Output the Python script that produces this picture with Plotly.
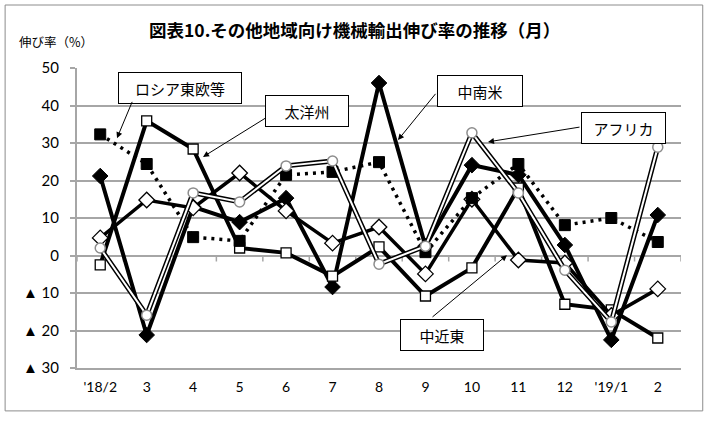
import plotly.graph_objects as go

categories = ["'18/2", "3", "4", "5", "6", "7", "8", "9", "10", "11", "12", "'19/1", "2"]

russia = [32.3, 24.4, 4.9, 3.9, 21.5, 22.3, 24.9, 0.9, 15.3, 24.4, 8.1, 10.0, 3.6]       # ロシア東欧等
oceania = [-2.5, 35.9, 28.4, 2.0, 0.7, -5.5, 2.3, -10.8, -3.3, 18.0, -13.0, -14.5, -22.0]  # 太洋州
latam = [21.2, -21.2, 13.0, 8.9, 15.3, -8.4, 46.0, 2.5, 24.1, 21.5, 2.8, -22.5, 10.8]     # 中南米
mideast = [4.7, 14.8, 12.7, 22.0, 11.9, 3.3, 7.6, -4.9, 15.0, -1.2, -2.0, -16.0, -8.9]    # 中近東
africa = [2.0, -15.9, 16.7, 14.3, 23.9, 25.2, -2.3, 2.5, 32.7, 16.7, -3.9, -17.7, 28.9]   # アフリカ

ytick_vals = [50, 40, 30, 20, 10, 0, -10, -20, -30]
ytick_text = ["50", "40", "30", "20", "10", "0", "▲ 10", "▲ 20", "▲ 30"]

title_text = "図表10.その他地域向け機械輸出伸び率の推移（月）"
ytitle_text = "伸び率（%）"

xs = list(range(len(categories)))
GRID = "#a6a6a6"
JP = "Noto Sans CJK JP"

fig = go.Figure()

# 中南米 (black diamonds)
fig.add_trace(go.Scatter(x=xs, y=latam, mode="lines+markers", name="中南米",
                         line=dict(color="black", width=4),
                         marker=dict(symbol="diamond", size=12, color="black",
                                     line=dict(color="black", width=1))))
# 太洋州 (white squares)
fig.add_trace(go.Scatter(x=xs, y=oceania, mode="lines+markers", name="太洋州",
                         line=dict(color="black", width=4),
                         marker=dict(symbol="square", size=10, color="white",
                                     line=dict(color="black", width=1.3))))
# 中近東 (white diamonds)
fig.add_trace(go.Scatter(x=xs, y=mideast, mode="lines+markers", name="中近東",
                         line=dict(color="black", width=3.5),
                         marker=dict(symbol="diamond", size=12, color="white",
                                     line=dict(color="black", width=1.3))))
# ロシア東欧等 (black squares, dotted)
fig.add_trace(go.Scatter(x=xs, y=russia, mode="lines+markers", name="ロシア東欧等",
                         line=dict(color="black", width=3.5, dash="3px,5px"),
                         marker=dict(symbol="square", size=11, color="black",
                                     line=dict(color="black", width=1))))
# アフリカ (double line, white circles)
fig.add_trace(go.Scatter(x=xs, y=africa, mode="lines", name="アフリカ_outer",
                         line=dict(color="black", width=5), hoverinfo="skip"))
fig.add_trace(go.Scatter(x=xs, y=africa, mode="lines+markers", name="アフリカ",
                         line=dict(color="white", width=2),
                         marker=dict(symbol="circle", size=10, color="white",
                                     line=dict(color="#8c8c8c", width=1.5))))

# category-boundary tick marks on the zero line
shapes = []
for i in range(len(categories) + 1):
    shapes.append(dict(type="line", xref="x", yref="y", x0=i - 0.5, x1=i - 0.5,
                       y0=0, y1=-1.6, line=dict(color=GRID, width=1.5), layer="below"))
# outer frame
shapes.append(dict(type="rect", xref="paper", yref="paper",
                   x0=-0.119, x1=1.036, y0=-0.143, y1=1.21,
                   line=dict(color="#8c8c8c", width=1)))

annotations = []
annotations.append(dict(text="<b>" + title_text + "</b>", xref="paper", yref="paper", x=0.46, y=1.127,
                        showarrow=False, font=dict(family=JP, size=17.5, color="black"),
                        xanchor="center", yanchor="middle"))
annotations.append(dict(text=ytitle_text, xref="paper", yref="paper", x=-0.035, y=1.087,
                        showarrow=False, font=dict(family=JP, size=12.5, color="black"),
                        xanchor="center", yanchor="middle"))

# label boxes: (text, x, y, w, h)
boxes = [("ロシア東欧等", 1.717, 44.8, 122, 30),
         ("太洋州", 4.45, 38.5, 82, 30),
         ("中南米", 8.174, 43.9, 84, 30),
         ("アフリカ", 11.263, 34.0, 83, 30),
         ("中近東", 7.356, -21.2, 82, 30)]
for t, bx, by, w, h in boxes:
    annotations.append(dict(text=t, x=bx, y=by, xref="x", yref="y", showarrow=False,
                            width=w, height=h, bgcolor="white", bordercolor="black",
                            borderwidth=1, borderpad=0,
                            font=dict(family=JP, size=15, color="black")))

# arrows: (tail_x, tail_y, tip_x, tip_y)
arrows = [(0.705, 41.5, 0.361, 31.3),
          (3.59, 36.9, 2.212, 26.3),
          (7.249, 43.6, 6.409, 30.8),
          (10.348, 34.3, 8.346, 30.3),
          (7.12, -16.7, 8.755, 0.1)]
for ax, ay, tx, ty in arrows:
    annotations.append(dict(text=" ", x=tx, y=ty, xref="x", yref="y",
                            ax=ax, ay=ay, axref="x", ayref="y", showarrow=True,
                            arrowhead=2, arrowsize=1.2, arrowwidth=1, arrowcolor="black",
                            font=dict(size=1), standoff=0, startstandoff=0))

fig.update_layout(
    width=709, height=425,
    margin=dict(l=77, r=28, t=68, b=57),
    paper_bgcolor="white", plot_bgcolor="white",
    showlegend=False,
    shapes=shapes, annotations=annotations,
    font=dict(family="Lato", color="black"),
    xaxis=dict(range=[-0.5, len(categories) - 0.5], tickmode="array", tickvals=xs,
               ticktext=categories, showgrid=False, zeroline=False,
               showline=True, linecolor=GRID, linewidth=2,
               ticks="outside", ticklen=5, tickcolor="rgba(0,0,0,0)",
               tickfont=dict(family="Lato", size=14, color="black")),
    yaxis=dict(range=[-30, 50], tickmode="array", tickvals=ytick_vals, ticktext=ytick_text,
               showgrid=True, gridcolor=GRID, gridwidth=2, zeroline=False,
               showline=True, linecolor=GRID, linewidth=2,
               ticks="outside", ticklen=5, tickcolor=GRID, tickwidth=2,
               ticklabelstandoff=8,
               tickfont=dict(family="Lato", size=15, color="black")),
)

fig.write_html("out.html")
